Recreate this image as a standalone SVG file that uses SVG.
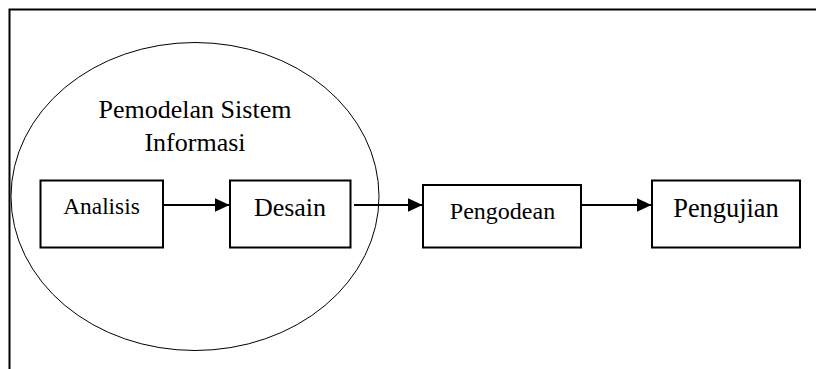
<svg xmlns="http://www.w3.org/2000/svg" width="816" height="369" viewBox="0 0 816 369">
<style>
.box{fill:#fff;stroke:#000;stroke-width:2}
.conn{fill:none;stroke:#000;stroke-width:1.8}
.t{font-family:"Liberation Serif","Times New Roman",serif;fill:#000;text-anchor:middle}
</style>
<defs>
<marker id="ah" markerUnits="userSpaceOnUse" markerWidth="16" markerHeight="15" refX="15" refY="7" orient="auto">
<path d="M0,0 L15,7 L0,14 Z" fill="#000"/>
</marker>
</defs>
<rect width="816" height="369" fill="#fff"/>
<g id="frame">
<path d="M816,9.5 L9.5,9.5 L9.5,369" fill="none" stroke="#000" stroke-width="2"/>
</g>
<g id="pemodelan">
<ellipse cx="195" cy="196.5" rx="184" ry="154" fill="none" stroke="#000" stroke-width="1"/>
<text class="t" x="195" y="118" font-size="26">Pemodelan Sistem</text>
<text class="t" x="195" y="150.5" font-size="26">Informasi</text>
</g>
<g id="analisis">
<rect class="box" x="40.5" y="180.5" width="122.5" height="67"/>
<text class="t" x="101.5" y="213.5" font-size="23.4">Analisis</text>
</g>
<g id="desain">
<rect class="box" x="230" y="180.5" width="120.5" height="67"/>
<text class="t" x="290" y="216" font-size="26">Desain</text>
</g>
<g id="pengodean">
<rect class="box" x="423" y="185" width="158" height="62.5"/>
<text class="t" x="502.5" y="219" font-size="24">Pengodean</text>
</g>
<g id="pengujian">
<rect class="box" x="652" y="180.5" width="148" height="67"/>
<text class="t" x="726" y="216.5" font-size="26.4">Pengujian</text>
</g>
<g id="connectors">
<line class="conn" x1="164" y1="205" x2="229.5" y2="205" marker-end="url(#ah)"/>
<line class="conn" x1="354" y1="205" x2="422.5" y2="205" marker-end="url(#ah)"/>
<line class="conn" x1="582" y1="205" x2="651.5" y2="205" marker-end="url(#ah)"/>
</g>
</svg>
